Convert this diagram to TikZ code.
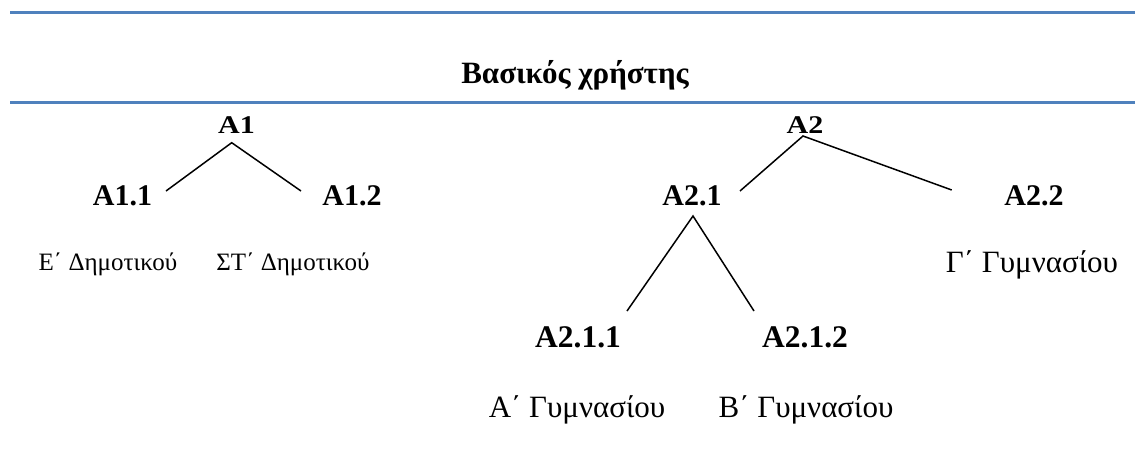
\documentclass[tikz,border=0pt]{standalone}
\usepackage{fontspec}
\setmainfont{Liberation Serif}
\definecolor{rulecol}{HTML}{4F81BD}
\begin{document}
\begin{tikzpicture}[x=1pt,y=-1pt,
  rulestyle/.style={draw=rulecol,line width=3pt},
  titlelab/.style={anchor=base,inner sep=0pt,font=\fontsize{31}{37}\selectfont\bfseries},
  toplab/.style={anchor=base,inner sep=0pt,font=\fontsize{30}{36}\selectfont\bfseries},
  codelab/.style={anchor=base,inner sep=0pt,font=\fontsize{30}{36}\selectfont\bfseries},
  subcodelab/.style={anchor=base,inner sep=0pt,font=\fontsize{31.5}{37}\selectfont\bfseries},
  gradelab/.style={anchor=base,inner sep=0pt,font=\fontsize{25}{30}\selectfont},
  gymlab/.style={anchor=base,inner sep=0pt,font=\fontsize{31}{37}\selectfont},
  conn/.style={draw=black,line width=1.5pt}]
\useasboundingbox (0,0) rectangle (1135,453);
% rules
\coordinate (r1l) at (10,12.5); \coordinate (r1r) at (1135,12.5);
\coordinate (r2l) at (10,102.2); \coordinate (r2r) at (1135,102.2);
\draw[rulestyle] (r1l) -- (r1r);
\draw[rulestyle] (r2l) -- (r2r);
% title
\node[titlelab] (title) at (575,83) {Βασικός χρήστης};
% tree 1
\node[toplab] (a1) at (236.5,133) {\scalebox{1}[0.85]{A1}};
\node[codelab] (a11) at (122.5,205) {A1.1};
\node[codelab] (a12) at (352,205) {A1.2};
\node[gradelab] (g11) at (108,270) {Ε΄ Δημοτικού};
\node[gradelab] (g12) at (293,270) {ΣΤ΄ Δημοτικού};
% tree 2
\node[toplab] (a2) at (805,133) {\scalebox{1}[0.85]{A2}};
\node[codelab] (a21) at (692,205) {A2.1};
\node[codelab] (a22) at (1034,205) {A2.2};
\node[gymlab] (g22) at (1032,272) {Γ΄ Γυμνασίου};
\node[subcodelab] (a211) at (578,347) {A2.1.1};
\node[subcodelab] (a212) at (805,347) {A2.1.2};
\node[gymlab] (g211) at (577,417) {Α΄ Γυμνασίου};
\node[gymlab] (g212) at (806,417) {Β΄ Γυμνασίου};
% connectors
\draw[conn] ([xshift=43.5pt,yshift=14pt]a11.base) -- ([xshift=-4.8pt,yshift=-9.7pt]a1.base) -- ([xshift=-51pt,yshift=14pt]a12.base);
\draw[conn] ([xshift=48pt,yshift=14pt]a21.base) -- ([xshift=-2pt,yshift=-3pt]a2.base) -- ([xshift=-82.3pt,yshift=15pt]a22.base);
\draw[conn] ([xshift=49pt,yshift=36pt]a211.base) -- ([xshift=1pt,yshift=-11pt]a21.base) -- ([xshift=-51pt,yshift=36pt]a212.base);
\end{tikzpicture}
\end{document}
